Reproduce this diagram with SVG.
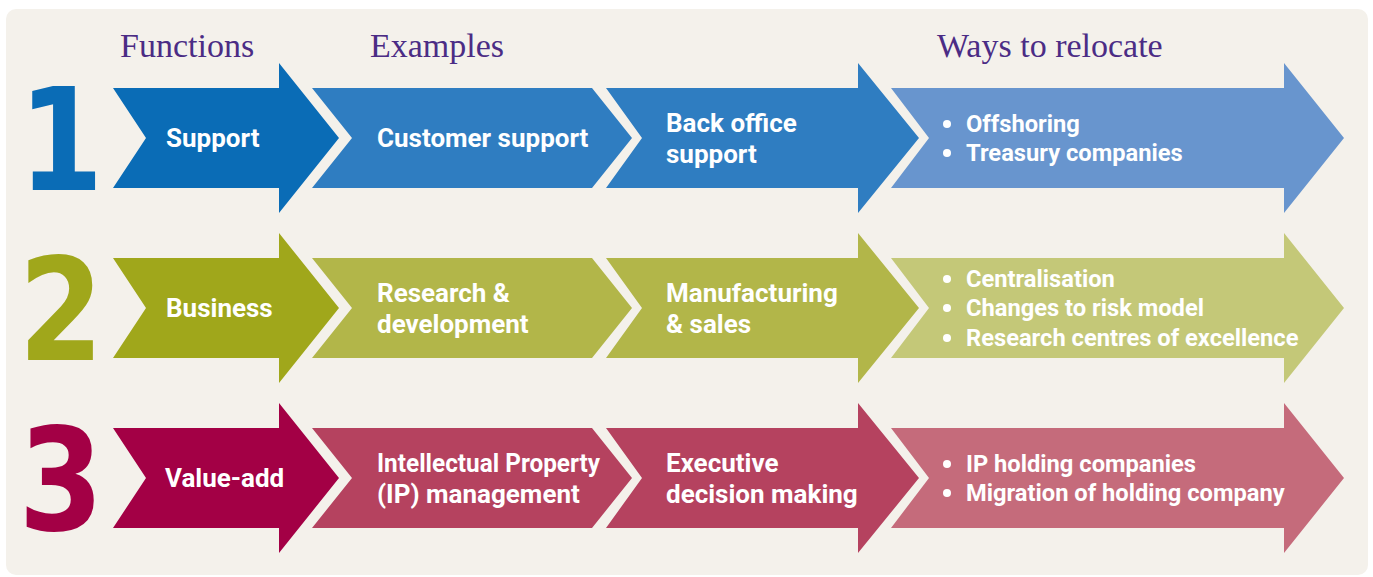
<svg xmlns="http://www.w3.org/2000/svg" width="1373" height="577" viewBox="0 0 1373 577">
  <style>
    .hdr { font-family: "Liberation Serif", serif; font-size: 34px; fill: #4b2c85; }
    .num { font-family: "DejaVu Sans", sans-serif; font-weight: bold; font-size: 142px; text-anchor: middle; }
    .lbl { font-family: Roboto, "Liberation Sans", sans-serif; font-weight: bold; font-size: 26px; fill: #ffffff; }
    .bul { font-family: Roboto, "Liberation Sans", sans-serif; font-weight: bold; font-size: 23.7px; fill: #ffffff; }
    .dot { fill: #ffffff; }
    .b1a { fill: #0a6cb6; } .b1b { fill: #2f7dc1; } .b1c { fill: #6895ce; }
    .b2a { fill: #a0a71b; } .b2b { fill: #b2b649; } .b2c { fill: #c4c878; }
    .b3a { fill: #a30045; } .b3b { fill: #b5425f; } .b3c { fill: #c56b7b; }
  </style>
  <defs>
    <polygon id="headArrow1" points="113,88 279,88 279,63 339,138 279,213 279,188 113,188 146,138"/>
    <polygon id="chev2" points="312,88 592,88 632,138 592,188 312,188 352,138"/>
    <polygon id="headArrow3" points="606,88 858,88 858,63 919,138 858,213 858,188 606,188 642,138"/>
    <polygon id="headArrow4" points="891,88 1284,88 1284,63 1344,138 1284,213 1284,188 891,188 929,138"/>
  </defs>
  <rect id="panel" x="6" y="9" width="1362" height="566" rx="10" fill="#f4f1eb"/>

  <g id="headers">
    <text class="hdr" x="120" y="57">Functions</text>
    <text class="hdr" x="370" y="57">Examples</text>
    <text class="hdr" x="937" y="57">Ways to relocate</text>
  </g>

  <g id="connectors"></g>

  <!-- Row 1 -->
  <g id="row1">
    <text class="num" transform="translate(61,190) scale(0.86,1)" fill="#0a6cb6">1</text>
    <g id="support">
      <use href="#headArrow1" class="b1a"/>
      <text class="lbl" x="166" y="147">Support</text>
    </g>
    <g id="customer-support">
      <use href="#chev2" class="b1b"/>
      <text class="lbl" x="377" y="147">Customer support</text>
    </g>
    <g id="back-office">
      <use href="#headArrow3" class="b1b"/>
      <text class="lbl" x="666" y="132">Back office</text>
      <text class="lbl" x="666" y="163">support</text>
    </g>
    <g id="relocate1">
      <use href="#headArrow4" class="b1c"/>
      <circle class="dot" cx="947" cy="124" r="4"/>
      <text class="bul" x="966" y="132">Offshoring</text>
      <circle class="dot" cx="947" cy="153" r="4"/>
      <text class="bul" x="966" y="161">Treasury companies</text>
    </g>
  </g>

  <!-- Row 2 -->
  <g id="row2" transform="translate(0,170)">
    <text class="num" transform="translate(61,190) scale(0.86,1)" fill="#a0a71b">2</text>
    <g id="business">
      <use href="#headArrow1" class="b2a"/>
      <text class="lbl" x="166" y="147">Business</text>
    </g>
    <g id="research">
      <use href="#chev2" class="b2b"/>
      <text class="lbl" x="377" y="132">Research &amp;</text>
      <text class="lbl" x="377" y="163">development</text>
    </g>
    <g id="manufacturing">
      <use href="#headArrow3" class="b2b"/>
      <text class="lbl" x="666" y="132">Manufacturing</text>
      <text class="lbl" x="666" y="163">&amp; sales</text>
    </g>
    <g id="relocate2">
      <use href="#headArrow4" class="b2c"/>
      <circle class="dot" cx="947" cy="109" r="4"/>
      <text class="bul" x="966" y="117">Centralisation</text>
      <circle class="dot" cx="947" cy="138" r="4"/>
      <text class="bul" x="966" y="146">Changes to risk model</text>
      <circle class="dot" cx="947" cy="168" r="4"/>
      <text class="bul" x="966" y="176">Research centres of excellence</text>
    </g>
  </g>

  <!-- Row 3 -->
  <g id="row3" transform="translate(0,340)">
    <text class="num" transform="translate(61,190) scale(0.86,1)" fill="#a30045">3</text>
    <g id="value-add">
      <use href="#headArrow1" class="b3a"/>
      <text class="lbl" x="165" y="147">Value-add</text>
    </g>
    <g id="ip-management">
      <use href="#chev2" class="b3b"/>
      <text class="lbl" x="377" y="132" textLength="223" lengthAdjust="spacingAndGlyphs">Intellectual Property</text>
      <text class="lbl" x="377" y="163">(IP) management</text>
    </g>
    <g id="executive">
      <use href="#headArrow3" class="b3b"/>
      <text class="lbl" x="666" y="132">Executive</text>
      <text class="lbl" x="666" y="163">decision making</text>
    </g>
    <g id="relocate3">
      <use href="#headArrow4" class="b3c"/>
      <circle class="dot" cx="947" cy="124" r="4"/>
      <text class="bul" x="966" y="132">IP holding companies</text>
      <circle class="dot" cx="947" cy="153" r="4"/>
      <text class="bul" x="966" y="161">Migration of holding company</text>
    </g>
  </g>
</svg>
